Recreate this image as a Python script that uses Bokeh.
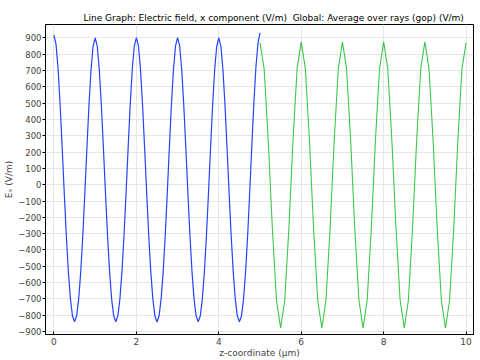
import numpy as np
from bokeh.plotting import figure
from bokeh.models import Range1d, FixedTicker
from bokeh.embed import file_html
from bokeh.resources import INLINE

title_text = "Line Graph: Electric field, x component (V/m) \u00a0Global: Average over rays (gop) (V/m)"
x_label = "z-coordinate (µm)"
y_label = "Eₓ (V/m)"
x_ticks = [0, 2, 4, 6, 8, 10]
y_ticks = [-900, -800, -700, -600, -500, -400, -300, -200, -100, 0,
           100, 200, 300, 400, 500, 600, 700, 800, 900]

# Line graph (blue): z from 0 to 5 um, step 0.05
blue_z = np.round(np.arange(101) * 0.05, 2)
blue_e = [
    917, 862, 712, 490, 226, -50, -311, -534, -701, -805,
    -840, -805, -701, -534, -311, -50, 226, 489, 706, 850,
    900, 850, 706, 489, 226, -50, -311, -534, -701, -805,
    -840, -805, -701, -534, -311, -50, 226, 489, 706, 850,
    902, 851, 707, 489, 226, -50, -311, -534, -701, -805,
    -841, -805, -701, -534, -311, -50, 226, 489, 706, 851,
    901, 851, 706, 489, 226, -50, -311, -534, -701, -805,
    -840, -805, -701, -534, -311, -50, 226, 489, 706, 850,
    900, 850, 706, 489, 226, -50, -311, -534, -701, -805,
    -840, -805, -701, -534, -311, -48, 232, 498, 718, 866,
    930,
]

# Global average over rays (green): z from 5 to 10 um, step 0.1
green_z = np.round(5 + np.arange(51) * 0.1, 2)
green_e = [
    870, 712, 270, -270, -708, -878, -708, -270, 270, 712,
    875, 712, 270, -270, -708, -878, -708, -270, 270, 712,
    875, 712, 270, -270, -708, -878, -708, -270, 270, 712,
    875, 712, 270, -270, -708, -878, -708, -270, 270, 712,
    875, 712, 270, -270, -708, -878, -708, -270, 270, 710,
    870,
]

FONT = "DejaVu Sans"
FS = "9px"

p = figure(width=480, height=360, output_backend="svg", toolbar_location=None,
           x_range=Range1d(-0.205, 10.18), y_range=Range1d(-918, 982),
           min_border_left=45, min_border_right=7, min_border_top=24, min_border_bottom=25,
           background_fill_color="white", border_fill_color="white")

p.title.text = title_text
p.title.align = "left"
p.title.offset = 38
p.title.text_font = FONT
p.title.text_font_size = FS
p.title.text_font_style = "normal"
p.title.text_color = "black"
p.title.standoff = 3

p.outline_line_color = "black"
p.outline_line_width = 1

p.line(blue_z, blue_e, line_color="#2244ff", line_width=1.2)
p.line(green_z, green_e, line_color="#3cc64c", line_width=1.1)

xa = p.xaxis[0]
xa.ticker = FixedTicker(ticks=x_ticks)
xa.axis_label = x_label
xa.axis_label_text_font = FONT
xa.axis_label_text_font_size = FS
xa.axis_label_text_font_style = "normal"
xa.axis_label_standoff = 0
xa.major_label_text_font = FONT
xa.major_label_text_font_size = FS
xa.major_label_standoff = 3
xa.major_tick_in = 3
xa.major_tick_out = 0
xa.minor_tick_line_color = None
xa.axis_line_color = "black"
xa.major_tick_line_color = "black"

ya = p.yaxis[0]
ya.ticker = FixedTicker(ticks=y_ticks)
ya.axis_label = y_label
ya.axis_label_text_font = FONT
ya.axis_label_text_font_size = FS
ya.axis_label_text_font_style = "normal"
ya.axis_label_standoff = 1
ya.major_label_text_font = FONT
ya.major_label_text_font_size = "8.5px"
ya.major_label_standoff = 1
ya.major_tick_in = 0
ya.major_tick_out = 3
ya.minor_tick_line_color = None
ya.axis_line_color = "black"
ya.major_tick_line_color = "black"

p.xgrid.ticker = FixedTicker(ticks=x_ticks)
p.ygrid.ticker = FixedTicker(ticks=y_ticks)
p.grid.grid_line_color = "#e6e6e6"
p.grid.grid_line_width = 1

open("out.html", "w").write(file_html(p, INLINE))
